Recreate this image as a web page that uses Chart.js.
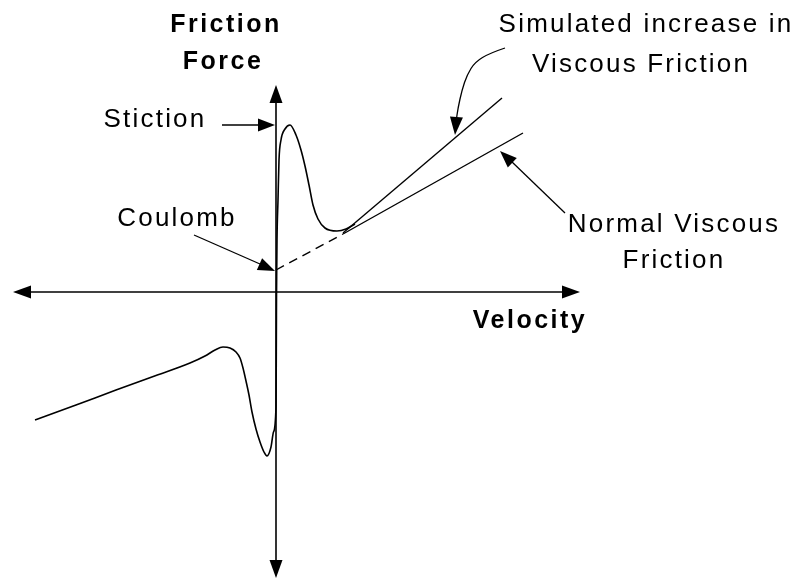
<!DOCTYPE html>
<html lang="en">
<head>
  <meta charset="UTF-8" />
  <title>Friction Model</title>
  <script src="https://cdn.jsdelivr.net/npm/chart.js"></script>
  <style>
    body { margin: 0; background: #fff; }
    .chart-box { width: 799px; height: 580px; }
  </style>
</head>
<body>

<div class="chart-box">
  <canvas id="frictionChart"></canvas>
</div>

<script>
  // Velocity / friction force samples (arbitrary units, origin at axis cross)
  const posVelocity = [0.05, 0.1, 0.2, 0.3, 0.5, 0.9, 1.4, 2.0, 2.5, 2.9, 3.3, 3.7, 4.2, 4.9, 6.1, 7.0, 7.9];
  const posForce    = [-0.5, 5.2, 9.2, 13.2, 15.2, 16.3, 16.7, 15.7, 14.2, 12.6, 10.7, 8.7, 7.3, 6.4, 6.1, 6.3, 6.8];

  const negVelocity = [-24.1, -20.0, -16.0, -12.0, -8.6, -7.1, -6.1, -5.3, -4.6, -4.0, -3.6, -3.3, -3.0, -2.7, -2.4, -2.0, -1.6, -1.2, -0.9, -0.5, -0.25, 0.0, 0.03, 0.05];
  const negForce    = [-12.8, -11.3, -9.8, -8.35, -7.1, -6.4, -5.8, -5.5, -5.6, -6.0, -6.6, -7.6, -8.9, -10.3, -12.0, -13.7, -15.0, -16.0, -16.4, -15.5, -14.0, -11.5, -6.0, -0.5];

  const normalViscousVel   = [6.7, 24.7];
  const normalViscousForce = [5.8, 15.9];
  const simViscousVel      = [6.7, 22.6];
  const simViscousForce    = [5.9, 19.4];
  const coulombExtVel      = [0.0, 6.7];
  const coulombExtForce    = [2.2, 5.8];

  const toPoints = (xs, ys) => xs.map((v, i) => ({ x: v, y: ys[i] }));

  function arrowHead(ctx, x1, y1, x2, y2, len, half) {
    const a = Math.atan2(y2 - y1, x2 - x1);
    ctx.beginPath();
    ctx.moveTo(x2, y2);
    ctx.lineTo(x2 - len * Math.cos(a) + half * Math.sin(a), y2 - len * Math.sin(a) - half * Math.cos(a));
    ctx.lineTo(x2 - len * Math.cos(a) - half * Math.sin(a), y2 - len * Math.sin(a) + half * Math.cos(a));
    ctx.closePath();
    ctx.fill();
  }

  function line(ctx, x1, y1, x2, y2) {
    ctx.beginPath();
    ctx.moveTo(x1, y1);
    ctx.lineTo(x2, y2);
    ctx.stroke();
  }

  // axes, arrows and labels drawn on top of the curves
  const diagramPlugin = {
    id: 'diagram',
    afterDatasetsDraw(chart) {
      const { ctx, scales: { x, y } } = chart;
      const px = v => x.getPixelForValue(v);
      const py = v => y.getPixelForValue(v);
      ctx.save();
      ctx.strokeStyle = '#000';
      ctx.fillStyle = '#000';

      // velocity axis
      ctx.lineWidth = 1.6;
      line(ctx, px(-25), py(0), px(29), py(0));
      arrowHead(ctx, px(0), py(0), px(-26.3), py(0), 18, 6.5);
      arrowHead(ctx, px(0), py(0), px(30.4), py(0), 18, 6.5);
      // force axis
      line(ctx, px(0), py(19), px(0), py(-27));
      arrowHead(ctx, px(0), py(0), px(0), py(20.7), 18, 6.5);
      arrowHead(ctx, px(0), py(0), px(0), py(-28.6), 18, 6.5);

      // callout arrows
      ctx.lineWidth = 1.3;
      line(ctx, px(-5.4), py(16.7), px(-1.5), py(16.7));
      arrowHead(ctx, px(-5.4), py(16.7), px(-0.1), py(16.7), 17, 6.5);

      line(ctx, px(-8.2), py(5.7), px(-1.6), py(2.8));
      arrowHead(ctx, px(-8.2), py(5.7), px(-0.1), py(2.1), 17, 6.5);

      line(ctx, px(28.9), py(7.9), px(23.5), py(13.1));
      arrowHead(ctx, px(28.9), py(7.9), px(22.4), py(14.1), 17, 6.5);

      const hook = [[22.9, 24.4], [21.4, 23.9], [19.9, 23.0], [19.1, 21.7], [18.6, 20.2], [18.2, 18.4], [18.0, 17.0]];
      ctx.beginPath();
      ctx.moveTo(px(hook[0][0]), py(hook[0][1]));
      for (let i = 1; i < hook.length - 1; i++) {
        const mx = (hook[i][0] + hook[i + 1][0]) / 2, my = (hook[i][1] + hook[i + 1][1]) / 2;
        ctx.quadraticCurveTo(px(hook[i][0]), py(hook[i][1]), px(mx), py(my));
      }
      ctx.lineTo(px(hook[hook.length - 1][0]), py(hook[hook.length - 1][1]));
      ctx.stroke();
      arrowHead(ctx, px(18.1), py(18.2), px(17.9), py(15.7), 18, 6.5);

      // labels
      ctx.textAlign = 'center';
      ctx.textBaseline = 'alphabetic';
      ctx.font = 'bold 25px "Liberation Sans", Arial, sans-serif';
      ctx.letterSpacing = '2.5px';
      ctx.fillText('Friction', px(-5.0), py(26.0));
      ctx.fillText('Force', px(-5.3), py(22.3));
      ctx.fillText('Velocity', px(25.4), py(-3.6));

      ctx.font = '26px "Liberation Sans", Arial, sans-serif';
      ctx.letterSpacing = '2.2px';
      ctx.fillText('Simulated increase in', px(37.0), py(26.0));
      ctx.fillText('Viscous Friction', px(36.5), py(22.0));
      ctx.fillText('Stiction', px(-12.1), py(16.5));
      ctx.fillText('Coulomb', px(-9.9), py(6.6));
      ctx.fillText('Normal Viscous', px(39.8), py(6.0));
      ctx.fillText('Friction', px(39.8), py(2.4));
      ctx.restore();
    }
  };

  const curveStyle = {
    showLine: true,
    borderColor: '#000',
    borderWidth: 1.6,
    pointRadius: 0,
    cubicInterpolationMode: 'monotone',
    fill: false
  };

  new Chart(document.getElementById('frictionChart'), {
    type: 'scatter',
    data: {
      datasets: [
        { ...curveStyle, label: 'Positive velocity', data: toPoints(posVelocity, posForce) },
        { ...curveStyle, label: 'Negative velocity', data: toPoints(negVelocity, negForce) },
        { ...curveStyle, label: 'Normal viscous', borderWidth: 1.4, data: toPoints(normalViscousVel, normalViscousForce) },
        { ...curveStyle, label: 'Simulated viscous', borderWidth: 1.4, data: toPoints(simViscousVel, simViscousForce) },
        { ...curveStyle, label: 'Coulomb extension', borderWidth: 1.4, borderDash: [9, 6], data: toPoints(coulombExtVel, coulombExtForce) }
      ]
    },
    options: {
      responsive: true,
      maintainAspectRatio: false,
      animation: false,
      layout: { padding: 0 },
      plugins: { legend: { display: false }, tooltip: { enabled: false } },
      scales: {
        x: { type: 'linear', min: -27.6, max: 52.3, display: false },
        y: { type: 'linear', min: -28.8, max: 29.2, display: false }
      }
    },
    plugins: [diagramPlugin]
  });
</script>

</body>
</html>
